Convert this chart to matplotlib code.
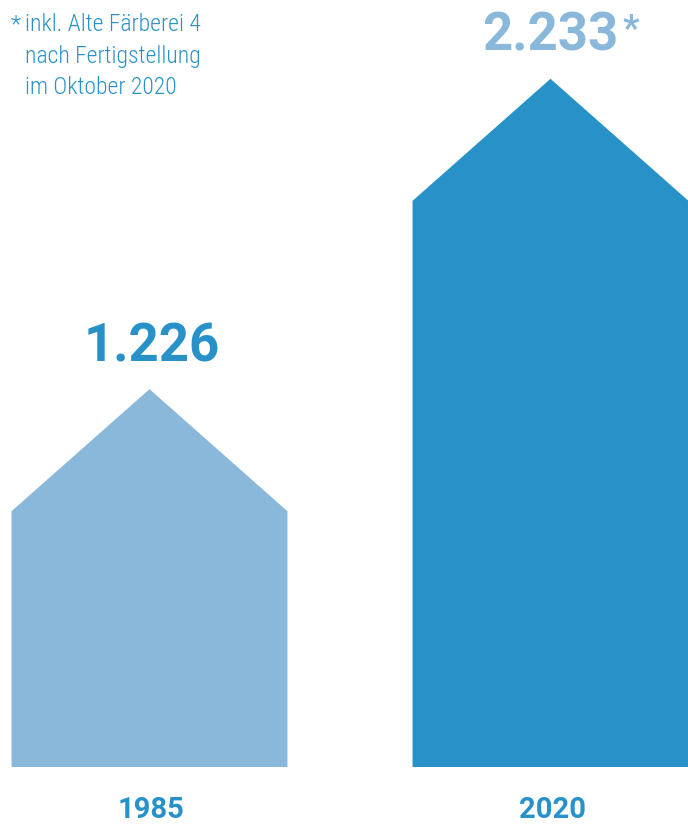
import matplotlib
matplotlib.use("Agg")
import matplotlib.pyplot as plt
from matplotlib.patches import Polygon
from matplotlib import font_manager

years = ["1985", "2020"]
values = [1226, 2233]
value_labels = ["1.226", "2.233"]
bar_colors = ["#8ab8da", "#2892c8"]
label_colors = ["#2892c8", "#8ab8da"]
footnote_lines = ["inkl. Alte Färberei 4", "nach Fertigstellung", "im Oktober 2020"]

names = {f.name for f in font_manager.fontManager.ttflist}
cond = None
for cand in ["Roboto Condensed", "Liberation Sans Narrow", "Roboto"]:
    if cand in names:
        cond = cand
        break
bold_font = "Roboto" if "Roboto" in names else "DejaVu Sans"

W, H = 688, 825
fig = plt.figure(figsize=(W / 100, H / 100), dpi=100)
ax = fig.add_axes([0, 0, 1, 1])
s = 0.3082  # px per unit
ax.set_xlim(-149.5 / 401, 1 + 137.5 / 401)
ax.set_ylim(-58 / s, 767 / s)
ax.axis("off")

width = 0.688
roof = 396
for i, (v, c) in enumerate(zip(values, bar_colors)):
    x0, x1 = i - width / 2, i + width / 2
    poly = Polygon([(x0, 0), (x1, 0), (x1, v - roof), (i, v), (x0, v - roof)],
                   closed=True, facecolor=c, edgecolor="none", lw=0)
    ax.add_patch(poly)
    ax.annotate(value_labels[i], xy=(i, v), xytext=(2 if i == 0 else 0, 28),
                textcoords="offset pixels", ha="center", va="baseline",
                fontsize=38, fontweight="bold", family=bold_font,
                color=label_colors[i])
    fig.text((149.5 + 2 + i * 401) / W, 7 / H, years[i], ha="center", va="baseline",
             fontsize=21, fontweight="bold", family=bold_font, color="#2892c8")

# asterisk next to 2020 value
fig.text(622 / W, (H - 40) / H, "*", ha="left", va="baseline", fontsize=26,
         fontweight="bold", family=bold_font, color="#8ab8da")

# footnote
fig.text(11 / W, (H - 31) / H, "*", ha="left", va="baseline", fontsize=17,
         family=cond, color="#2892c8", fontweight="light")
for k, line in enumerate(footnote_lines):
    fig.text(25 / W, (H - 31 - 31.5 * k) / H, line, ha="left", va="baseline",
             fontsize=17, family=cond, color="#2892c8", fontweight="light")

fig.savefig("out.png", dpi=100)
